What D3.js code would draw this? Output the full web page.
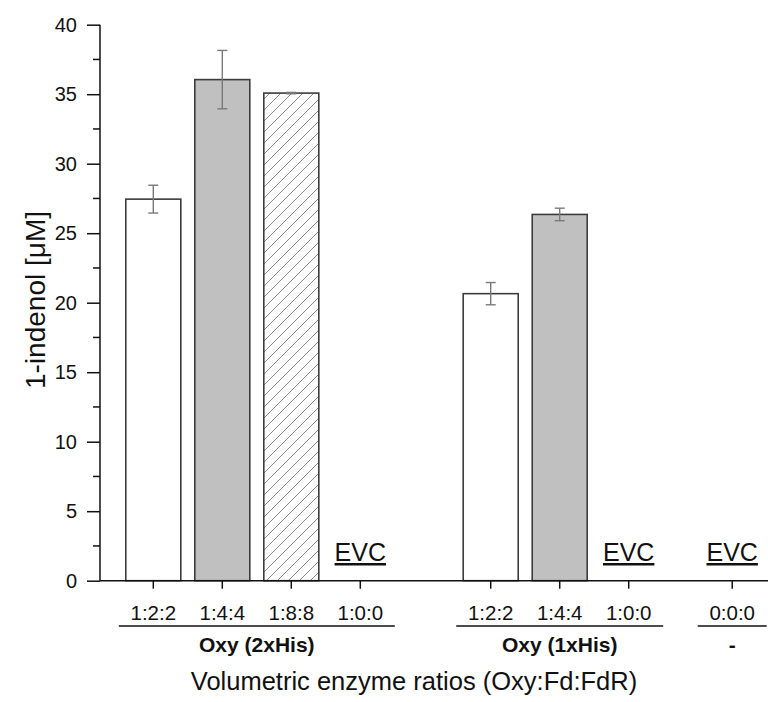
<!DOCTYPE html>
<html>
<head>
<meta charset="utf-8">
<script src="https://cdn.jsdelivr.net/npm/d3@7"></script>
<style>
  html, body { margin: 0; padding: 0; background: #fff; }
  svg { display: block; font-family: "Liberation Sans", Arial, sans-serif; }
</style>
</head>
<body>
<svg id="chart" width="768" height="702"></svg>
<script>
// Enzyme ratio (Oxy:Fd:FdR) for each bar, in plotting order
const ratios = ["1:2:2", "1:4:4", "1:8:8", "1:0:0", "1:2:2", "1:4:4", "1:0:0", "0:0:0"];
// Which oxygenase construct each bar belongs to
const groupIndex = [0, 0, 0, 0, 1, 1, 1, 2];
const groupLabels = ["Oxy (2xHis)", "Oxy (1xHis)", "-"];
// Mean 1-indenol concentration (µM) and its standard deviation
const values = [27.45, 36.05, 35.08, 0, 20.65, 26.35, 0, 0];
const errors = [1.0, 2.1, 0.05, 0, 0.8, 0.45, 0, 0];
// Empty vector controls are marked with a text note instead of a bar
const notes = ["", "", "", "EVC", "", "", "EVC", "EVC"];
const yTicks = [0, 5, 10, 15, 20, 25, 30, 35, 40];

// ---- layout ----
const W = 768, H = 702;
const axisX = 100, axisY = 580.7, topY = 24.7;
const slotStep = 69;              // distance between neighbouring bars
const firstSlotX = 153.3;
const groupOffset = [0, 4.89, 8.39]; // slot offset where each group starts
const barWidth = 55;

const svg = d3.select("#chart");

const y = d3.scaleLinear().domain([0, 40]).range([axisY, topY]);
const slot = d3.scaleLinear().domain([0, 1]).range([firstSlotX, firstSlotX + slotStep]);

// slot position of each bar: index within its group + group offset
const within = [];
const counters = {};
groupIndex.forEach((g) => {
  counters[g] = (counters[g] || 0);
  within.push(counters[g]);
  counters[g] += 1;
});
const xPos = ratios.map((_, i) => slot(within[i] + groupOffset[groupIndex[i]]));

// hatch pattern for the 1:8:8 bar
const defs = svg.append("defs");
const pat = defs.append("pattern")
  .attr("id", "hatch")
  .attr("patternUnits", "userSpaceOnUse")
  .attr("width", 11).attr("height", 11);
pat.append("rect").attr("width", 11).attr("height", 11).attr("fill", "#fff");
pat.append("path")
  .attr("d", "M-1,1 l2,-2 M0,11 l11,-11 M10,12 l2,-2")
  .attr("stroke", "#8a8a8a").attr("stroke-width", 1);

const fillFor = r => r === "1:4:4" ? "#c0c0c0" : (r === "1:8:8" ? "url(#hatch)" : "#ffffff");

// bars
const bars = svg.append("g");
ratios.forEach((r, i) => {
  if (values[i] <= 0) return;
  bars.append("rect")
    .attr("x", xPos[i] - barWidth / 2)
    .attr("y", y(values[i]))
    .attr("width", barWidth)
    .attr("height", y(0) - y(values[i]))
    .attr("fill", fillFor(r))
    .attr("stroke", "#3c3c3c")
    .attr("stroke-width", 1.6);
});

// error bars
const err = svg.append("g").attr("stroke", "#7a7a7a").attr("stroke-width", 1.4).attr("fill", "none");
ratios.forEach((r, i) => {
  if (values[i] <= 0) return;
  const x = xPos[i], hi = y(values[i] + errors[i]), lo = y(values[i] - errors[i]);
  err.append("line").attr("x1", x).attr("x2", x).attr("y1", hi).attr("y2", lo);
  err.append("line").attr("x1", x - 5).attr("x2", x + 5).attr("y1", hi).attr("y2", hi);
  err.append("line").attr("x1", x - 5).attr("x2", x + 5).attr("y1", lo).attr("y2", lo);
});

// EVC notes
ratios.forEach((r, i) => {
  if (!notes[i]) return;
  svg.append("text")
    .attr("x", xPos[i]).attr("y", 561)
    .attr("text-anchor", "middle")
    .attr("font-size", 25)
    .attr("text-decoration", "underline")
    .attr("fill", "#111")
    .text(notes[i]);
});

// y axis
const yAxis = d3.axisLeft(y).tickValues(yTicks).tickSize(13).tickPadding(10);
const yg = svg.append("g").attr("transform", `translate(${axisX},0)`).call(yAxis);
yg.select(".domain").attr("d", `M-0.01,${topY}V${axisY}`);
yg.selectAll("text").attr("font-size", 20).attr("font-family", "Liberation Sans, Arial, sans-serif").attr("fill", "#111");
yg.selectAll("line, path").attr("stroke", "#111").attr("stroke-width", 1.5);
// minor ticks
const minor = d3.range(2.5, 40, 5);
yg.selectAll(".minor").data(minor).join("line")
  .attr("class", "minor")
  .attr("x1", -7).attr("x2", 0)
  .attr("y1", d => y(d)).attr("y2", d => y(d))
  .attr("stroke", "#111").attr("stroke-width", 1.5);

// x axis
const xg = svg.append("g");
xg.append("line").attr("x1", axisX).attr("x2", W).attr("y1", axisY).attr("y2", axisY)
  .attr("stroke", "#111").attr("stroke-width", 1.5);
ratios.forEach((r, i) => {
  xg.append("line").attr("x1", xPos[i]).attr("x2", xPos[i]).attr("y1", axisY).attr("y2", axisY + 8)
    .attr("stroke", "#111").attr("stroke-width", 1.5);
  xg.append("text").attr("x", xPos[i]).attr("y", 620)
    .attr("text-anchor", "middle").attr("font-size", 20.5).attr("fill", "#111").text(r);
});

// group brackets and labels
groupLabels.forEach((lab, g) => {
  const xs = xPos.filter((_, i) => groupIndex[i] === g);
  const x0 = d3.min(xs) - slotStep / 2, x1 = d3.max(xs) + slotStep / 2;
  xg.append("line").attr("x1", x0).attr("x2", x1).attr("y1", 626).attr("y2", 626)
    .attr("stroke", "#111").attr("stroke-width", 1.5);
  xg.append("text").attr("x", (x0 + x1) / 2).attr("y", 652)
    .attr("text-anchor", "middle").attr("font-size", 21).attr("font-weight", "bold")
    .attr("fill", "#111").text(lab);
});

// axis titles
svg.append("text")
  .attr("transform", `translate(45,300) rotate(-90)`)
  .attr("text-anchor", "middle").attr("font-size", 28).attr("fill", "#111")
  .text("1-indenol [μM]");
svg.append("text")
  .attr("x", 414).attr("y", 690)
  .attr("text-anchor", "middle").attr("font-size", 25.5).attr("fill", "#111")
  .text("Volumetric enzyme ratios (Oxy:Fd:FdR)");
</script>
</body>
</html>
